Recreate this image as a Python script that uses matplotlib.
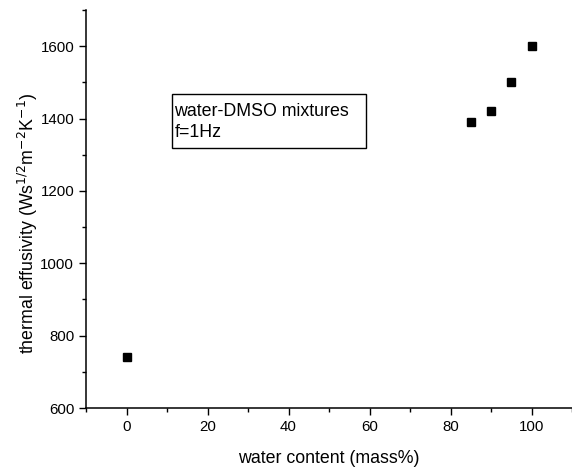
import numpy as np
import matplotlib
matplotlib.use('Agg')
import matplotlib.pyplot as plt
from matplotlib.patches import Rectangle
from matplotlib.ticker import MultipleLocator

# water content (mass%) and thermal effusivity
water = [0, 85, 90, 95, 100]
effusivity = [740, 1390, 1420, 1500, 1600]

x_ticks = [0, 20, 40, 60, 80, 100]
y_ticks = [600, 800, 1000, 1200, 1400, 1600]

plt.rcParams['font.family'] = ['Liberation Sans', 'DejaVu Sans']
plt.rcParams['font.size'] = 10.8

fig = plt.figure(figsize=(5.72, 4.71), dpi=100)
ax = fig.add_axes([86/572, 1 - 408/471, 486/572, 398/471])

ax.plot(water, effusivity, 's', color='black', markersize=5.5, linestyle='none')

ax.set_xlim(-10, 110)
ax.set_ylim(600, 1700)
ax.set_xticks(x_ticks)
ax.set_yticks(y_ticks)
ax.xaxis.set_minor_locator(MultipleLocator(10))
ax.yaxis.set_minor_locator(MultipleLocator(100))
ax.tick_params(which='major', direction='out', length=5, width=1)
ax.tick_params(which='minor', direction='out', length=3, width=1)

for side in ['top', 'right']:
    ax.spines[side].set_visible(False)
for side in ['left', 'bottom']:
    ax.spines[side].set_linewidth(1.1)

ax.set_xlabel('water content (mass%)', fontsize=12.8, labelpad=12)
ax.set_ylabel(r'thermal effusivity (Ws$^{1/2}$m$^{-2}$K$^{-1}$)', fontsize=12.8)
ax.yaxis.set_label_coords(-0.095, 0.4636)

# annotation box
ax.add_patch(Rectangle((0.177, 0.653), 0.399, 0.136, transform=ax.transAxes,
                       fill=False, edgecolor='black', linewidth=1))
ax.text(0.182, 0.746, 'water-DMSO mixtures', transform=ax.transAxes,
        va='center', ha='left', fontsize=12.8)
ax.text(0.182, 0.691, 'f=1Hz', transform=ax.transAxes,
        va='center', ha='left', fontsize=12.8)

fig.savefig('out.png', dpi=100)
